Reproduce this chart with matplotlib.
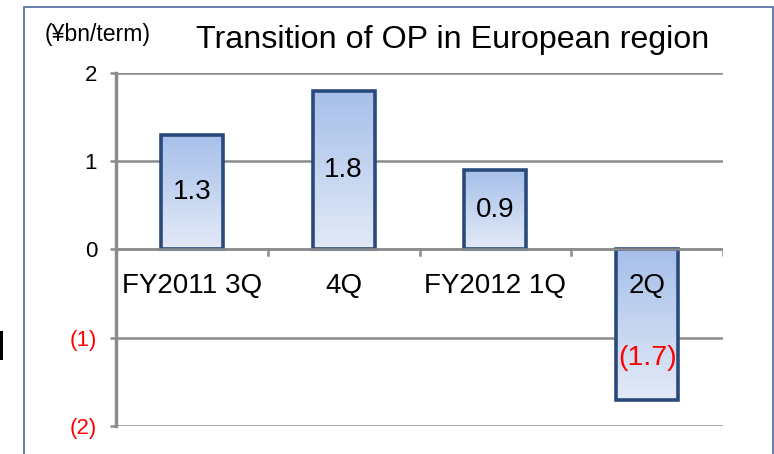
import matplotlib
matplotlib.use("Agg")
import matplotlib.pyplot as plt
import numpy as np
from matplotlib.patches import Rectangle
from matplotlib.colors import LinearSegmentedColormap

plt.rcParams['font.family'] = ['Liberation Sans', 'DejaVu Sans']

categories = ["FY2011 3Q", "4Q", "FY2012 1Q", "2Q"]
values = [1.3, 1.8, 0.9, -1.7]
value_labels = ["1.3", "1.8", "0.9", "(1.7)"]
yticks = [2, 1, 0, -1, -2]
ytick_labels = ["2", "1", "0", "(1)", "(2)"]
ytick_colors = ["black", "black", "black", "red", "red"]
title = "Transition of OP in European region"
unit = "(¥bn/term)"

fig = plt.figure(figsize=(7.74, 4.54), dpi=100)
W, H = 774, 454
ax = fig.add_axes([116 / W, 1 - 426 / H, (723 - 116) / W, (426 - 73) / H])

# figure frame
fig.patches.append(Rectangle((24 / W, -0.05), (773 - 24) / W, 1.05 - 7 / H,
                             transform=fig.transFigure, fill=False,
                             edgecolor="#4a6a9a", linewidth=1.2, zorder=0))
fig.patches.append(Rectangle((0, 1 - 360 / H), 2.5 / W, 29 / H,
                             transform=fig.transFigure, facecolor="black",
                             edgecolor="none"))

ax.set_xlim(-0.5, len(categories) - 0.5)
ax.set_ylim(-2, 2)

for y in yticks:
    ax.axhline(y, color="#8c8c8c", linewidth=1.8, zorder=1)

cmap = LinearSegmentedColormap.from_list("g", ["#a6bfea", "#e3eaf7"])
grad = np.linspace(0, 1, 256).reshape(-1, 1)
width = 0.41
x = np.arange(len(categories))
bars = ax.bar(x, values, width=width, facecolor="none", edgecolor="#2b4a7c",
              linewidth=2.6, zorder=3)
for b, v in zip(bars, values):
    x0 = b.get_x()
    top = max(v, 0)
    bot = min(v, 0)
    im = ax.imshow(grad, cmap=cmap, aspect="auto",
                   extent=(x0, x0 + width, bot, top), origin="upper", zorder=2)
    im.set_clip_path(b)
ax.axhline(0, color="#8c8c8c", linewidth=1.8, zorder=4)
ax.set_xlim(-0.5, len(categories) - 0.5)
ax.set_ylim(-2, 2)

for xi, v, lab in zip(x, values, value_labels):
    if v >= 0:
        ax.text(xi, v / 2, lab, ha="center", va="center", fontsize=20,
                color="black", zorder=5)
    else:
        ax.text(xi, -1.23, lab, ha="center", va="center", fontsize=20.5,
                color="red", zorder=5)

for xi, c in zip(x, categories):
    ax.text(xi, -0.41, c, ha="center", va="center", fontsize=20, color="black",
            zorder=5)

ax.set_xticks([])
# boundary ticks below zero line
for xb in [0.5, 1.5, 2.5, 3.5]:
    ax.plot([xb, xb], [0, -0.06], color="#8c8c8c", linewidth=1.8, zorder=1)

ax.set_yticks(yticks)
ax.set_yticklabels(ytick_labels, fontsize=16)
for t, c in zip(ax.get_yticklabels(), ytick_colors):
    t.set_color(c)
ax.tick_params(axis="y", length=4.5, width=1.8, color="#8c8c8c", pad=9)

for s in ["top", "right", "bottom"]:
    ax.spines[s].set_visible(False)
ax.spines["left"].set_color("#8c8c8c")
ax.spines["left"].set_linewidth(2.5)
ax.spines["left"].set_zorder(6)

fig.text(453 / W, 1 - 40 / H, title, ha="center", va="center", fontsize=23.2)
fig.text(98 / W, 1 - 35 / H, unit, ha="center", va="center", fontsize=16.6)

fig.savefig("out.png", dpi=100)
